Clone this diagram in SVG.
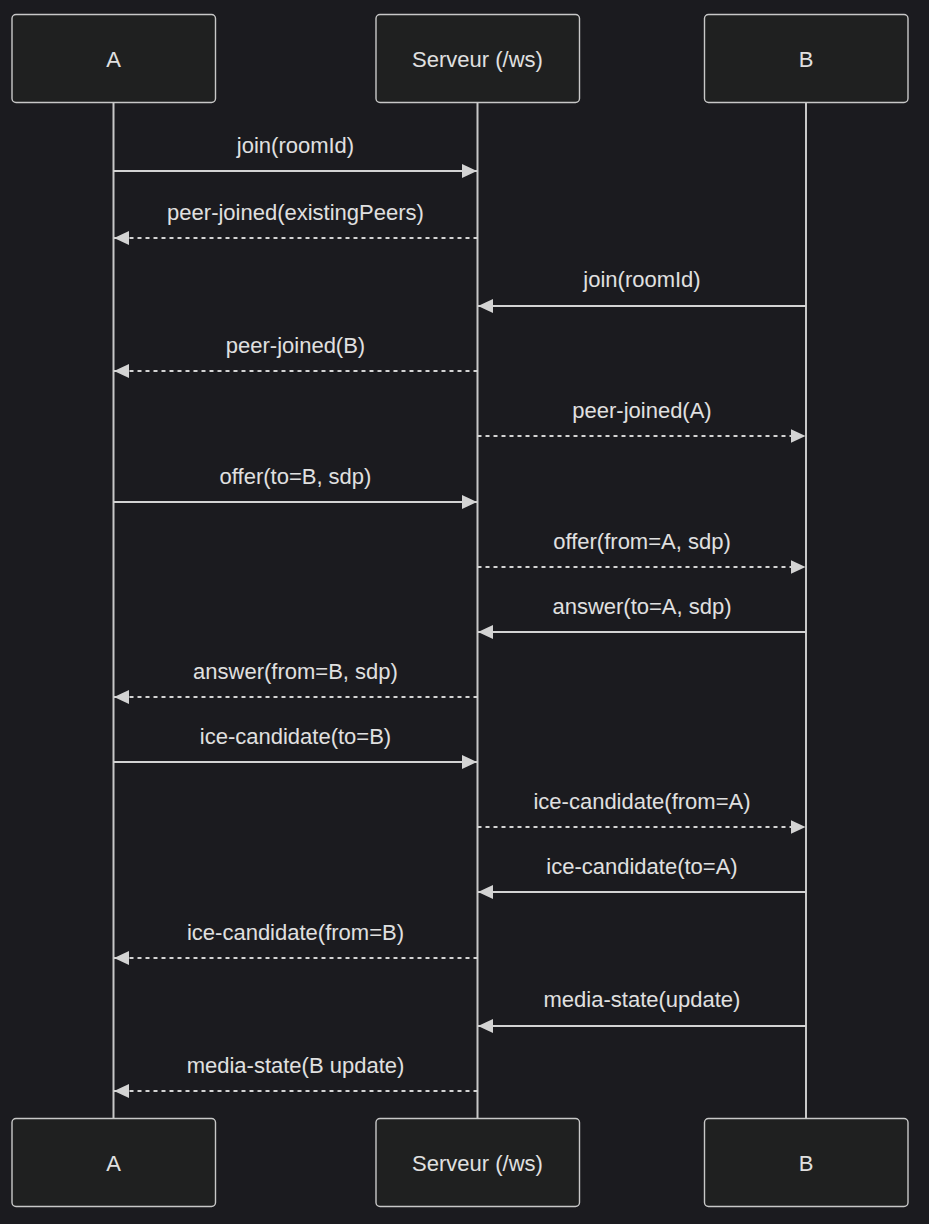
<svg xmlns="http://www.w3.org/2000/svg" width="929" height="1224" viewBox="0 0 929 1224">
<style>
.bg{fill:#1b1b1f}
.actor rect{fill:#1f2020;stroke:#c8c8c8;stroke-width:1.4}
.actor text{fill:#e0e0e0;font-family:"Liberation Sans",Arial,sans-serif;font-size:22px;text-anchor:middle}
.life{stroke:#c8c8c8;stroke-width:2;fill:none}
.msg{stroke:#d3d3d3;stroke-width:2;fill:none}
.dash{stroke-dasharray:4 4}
.lbl{fill:#e0e0e0;font-family:"Liberation Sans",Arial,sans-serif;font-size:22px;text-anchor:middle}
</style>
<defs>
<marker id="ah" markerUnits="userSpaceOnUse" markerWidth="15" markerHeight="14" refX="15" refY="7" orient="auto">
<path d="M0,0 L15,7 L0,14 z" fill="#d3d3d3"/>
</marker>
</defs>
<rect class="bg" x="0" y="0" width="929" height="1224"/>
<g id="lifelines">
<line class="life" x1="113.5" y1="103" x2="113.5" y2="1119"/>
<line class="life" x1="477.5" y1="103" x2="477.5" y2="1119"/>
<line class="life" x1="806" y1="103" x2="806" y2="1119"/>
</g>
<g id="actor-A-top" class="actor"><rect x="12" y="14.5" width="203.5" height="88" rx="4"/><text x="113.5" y="67">A</text></g>
<g id="actor-S-top" class="actor"><rect x="376" y="14.5" width="203.5" height="88" rx="4"/><text x="477.5" y="67">Serveur (/ws)</text></g>
<g id="actor-B-top" class="actor"><rect x="704.5" y="14.5" width="203.5" height="88" rx="4"/><text x="806" y="67">B</text></g>
<g id="actor-A-bottom" class="actor"><rect x="12" y="1118.5" width="203.5" height="88" rx="4"/><text x="113.5" y="1171">A</text></g>
<g id="actor-S-bottom" class="actor"><rect x="376" y="1118.5" width="203.5" height="88" rx="4"/><text x="477.5" y="1171">Serveur (/ws)</text></g>
<g id="actor-B-bottom" class="actor"><rect x="704.5" y="1118.5" width="203.5" height="88" rx="4"/><text x="806" y="1171">B</text></g>
<g id="connectors">
<line class="msg" x1="113.5" y1="171" x2="477" y2="171" marker-end="url(#ah)"/>
<line class="msg dash" x1="477.5" y1="238" x2="114" y2="238" marker-end="url(#ah)"/>
<line class="msg" x1="806" y1="306" x2="478" y2="306" marker-end="url(#ah)"/>
<line class="msg dash" x1="477.5" y1="371" x2="114" y2="371" marker-end="url(#ah)"/>
<line class="msg dash" x1="477.5" y1="436" x2="805.5" y2="436" marker-end="url(#ah)"/>
<line class="msg" x1="113.5" y1="502" x2="477" y2="502" marker-end="url(#ah)"/>
<line class="msg dash" x1="477.5" y1="567" x2="805.5" y2="567" marker-end="url(#ah)"/>
<line class="msg" x1="806" y1="632" x2="478" y2="632" marker-end="url(#ah)"/>
<line class="msg dash" x1="477.5" y1="697" x2="114" y2="697" marker-end="url(#ah)"/>
<line class="msg" x1="113.5" y1="762" x2="477" y2="762" marker-end="url(#ah)"/>
<line class="msg dash" x1="477.5" y1="827" x2="805.5" y2="827" marker-end="url(#ah)"/>
<line class="msg" x1="806" y1="892" x2="478" y2="892" marker-end="url(#ah)"/>
<line class="msg dash" x1="477.5" y1="958" x2="114" y2="958" marker-end="url(#ah)"/>
<line class="msg" x1="806" y1="1026" x2="478" y2="1026" marker-end="url(#ah)"/>
<line class="msg dash" x1="477.5" y1="1091" x2="114" y2="1091" marker-end="url(#ah)"/>
</g>
<g id="labels">
<text class="lbl" x="295.5" y="153">join(roomId)</text>
<text class="lbl" x="295.5" y="220">peer-joined(existingPeers)</text>
<text class="lbl" x="642" y="287">join(roomId)</text>
<text class="lbl" x="295.5" y="353">peer-joined(B)</text>
<text class="lbl" x="642" y="418">peer-joined(A)</text>
<text class="lbl" x="295.5" y="484">offer(to=B, sdp)</text>
<text class="lbl" x="642" y="549">offer(from=A, sdp)</text>
<text class="lbl" x="642" y="614">answer(to=A, sdp)</text>
<text class="lbl" x="295.5" y="679">answer(from=B, sdp)</text>
<text class="lbl" x="295.5" y="744">ice-candidate(to=B)</text>
<text class="lbl" x="642" y="809">ice-candidate(from=A)</text>
<text class="lbl" x="642" y="874">ice-candidate(to=A)</text>
<text class="lbl" x="295.5" y="940">ice-candidate(from=B)</text>
<text class="lbl" x="642" y="1007">media-state(update)</text>
<text class="lbl" x="295.5" y="1073">media-state(B update)</text>
</g>
</svg>
